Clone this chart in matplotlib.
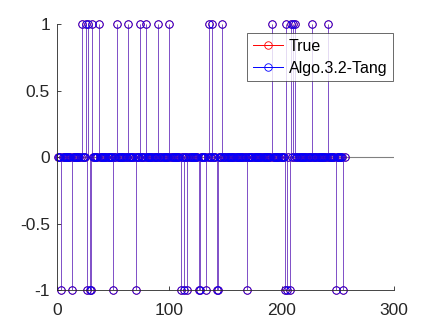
import numpy as np
import matplotlib
matplotlib.use("Agg")
import matplotlib.pyplot as plt

N = 256
idx = np.arange(1, N + 1)

true_pos = [22, 26, 28, 31, 37, 53, 63, 74, 79, 90, 100, 135, 138, 147,
            191, 204, 208, 210, 212, 227, 241]
true_neg = [4, 13, 27, 29, 30, 50, 70, 110, 113, 116, 126, 127, 133, 142,
            143, 169, 203, 205, 207, 248, 255]
algo_pos = [22, 26, 28, 31, 37, 53, 63, 74, 79, 90, 100, 135, 138, 147,
            191, 204, 208, 210, 212, 227, 241]
algo_neg = [4, 13, 27, 29, 30, 50, 70, 110, 113, 116, 126, 127, 133, 142,
            143, 169, 203, 205, 207, 248, 255]

x_ticks = [0, 100, 200, 300]
y_ticks = [-1, -0.5, 0, 0.5, 1]
y_labels = ["-1", "-0.5", "0", "0.5", "1"]
legend_labels = ["True", "Algo.3.2-Tang"]

def build(pos, neg):
    v = np.zeros(N)
    v[np.array(pos) - 1] = 1
    v[np.array(neg) - 1] = -1
    return v

y_true = build(true_pos, true_neg)
y_algo = build(algo_pos, algo_neg)

plt.rcParams['font.family'] = ['Liberation Sans', 'DejaVu Sans']
fig = plt.figure(figsize=(4.36, 3.27), dpi=100)
ax = fig.add_axes([0.1307, 0.1131, 0.773, 0.8135])

ax.axhline(0, color='#808080', lw=0.8, zorder=1)

red = '#ff0000'
blue = '#0000ff'
ms = 5.4

m1, s1, b1 = ax.stem(idx, y_true, linefmt='-', markerfmt='o', basefmt=' ')
s1.set_color(red); s1.set_linewidth(0.6); s1.set_alpha(0.5)
m1.set_markerfacecolor('none'); m1.set_markeredgecolor(red)
m1.set_markersize(ms); m1.set_markeredgewidth(0.6)
m1.set_clip_on(False)

m2, s2, b2 = ax.stem(idx, y_algo, linefmt='-', markerfmt='o', basefmt=' ')
s2.set_color('#3a2ee8'); s2.set_linewidth(0.7); s2.set_alpha(0.65)
m2.set_markerfacecolor('none'); m2.set_markeredgecolor(blue)
m2.set_markersize(ms); m2.set_markeredgewidth(0.6)
m2.set_clip_on(False)

h1, = ax.plot([], [], '-o', color=red, mfc='none', ms=ms, lw=0.7, mew=0.6)
h2, = ax.plot([], [], '-o', color=blue, mfc='none', ms=ms, lw=0.7, mew=0.6)
leg = ax.legend([h1, h2], legend_labels, loc='upper right',
                bbox_to_anchor=(0.997, 0.966), fontsize=11.5, frameon=True,
                fancybox=False, borderpad=0.35, labelspacing=0.45,
                handlelength=1.9, handletextpad=0.35, borderaxespad=0)
leg.get_frame().set_edgecolor('#262626')
leg.get_frame().set_linewidth(0.6)
leg.set_zorder(10)

ax.set_xlim(0, 300)
ax.set_ylim(-1, 1)
ax.set_xticks(x_ticks)
ax.set_yticks(y_ticks)
ax.set_yticklabels(y_labels)
for sp in ['top', 'right']:
    ax.spines[sp].set_visible(False)
for sp in ['left', 'bottom']:
    ax.spines[sp].set_color('#262626')
    ax.spines[sp].set_linewidth(0.6)
ax.tick_params(direction='in', length=3, width=0.6, color='#262626',
               labelsize=12.5, labelcolor='#262626')
ax.tick_params(axis='x', pad=9)
ax.tick_params(axis='y', pad=5)

fig.savefig('out.png', dpi=100)
